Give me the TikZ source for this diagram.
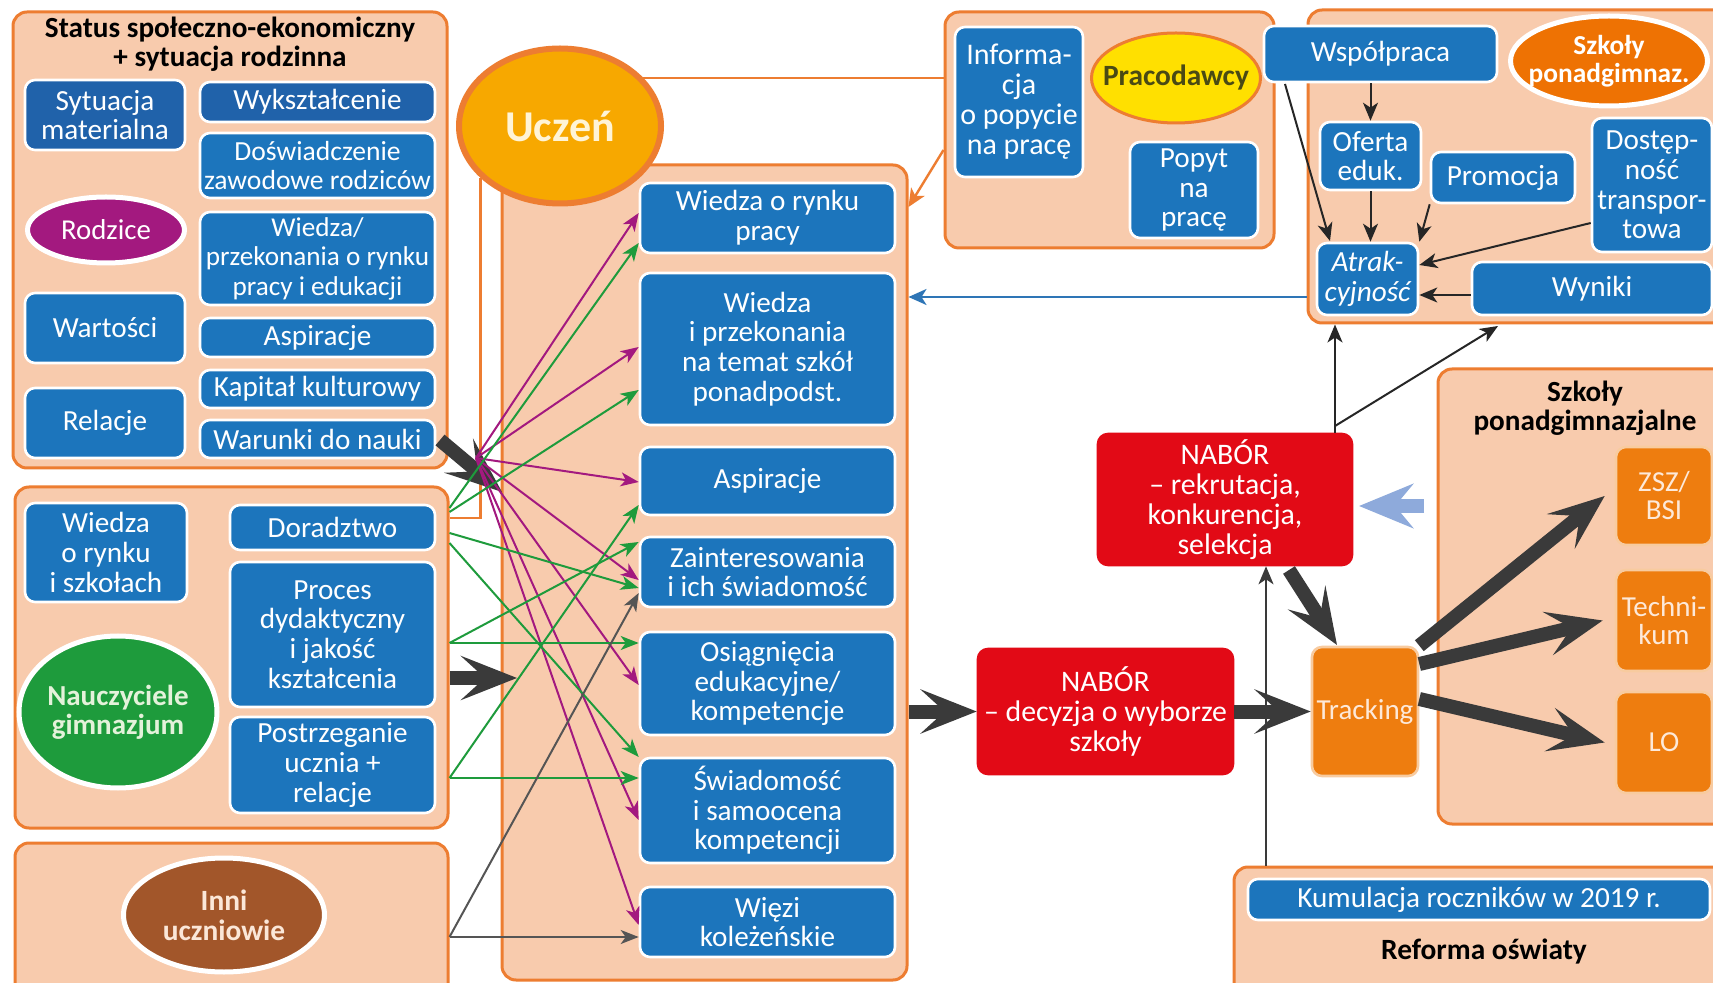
\documentclass[tikz,border=0pt]{standalone}
\usepackage{fontspec}
\setmainfont{Carlito}
\usetikzlibrary{shapes.geometric,arrows.meta}
\definecolor{peach}{HTML}{F8CBAD}
\definecolor{orbord}{HTML}{ED7D31}
\definecolor{bblue}{HTML}{1C75BC}
\definecolor{dblue}{HTML}{2062AA}
\definecolor{rodz}{HTML}{A3197F}
\definecolor{ngreen}{HTML}{1E9B3C}
\definecolor{inbrown}{HTML}{A2562A}
\definecolor{uczfill}{HTML}{F7A800}
\definecolor{yel}{HTML}{FFE000}
\definecolor{orfill}{HTML}{EE7D0F}
\definecolor{orfilltwo}{HTML}{EE7203}
\definecolor{nred}{HTML}{E20A16}
\definecolor{magl}{HTML}{A3197F}
\definecolor{grl}{HTML}{1E9B3C}
\definecolor{gyl}{HTML}{555555}
\definecolor{darkar}{HTML}{3A3A3A}
\definecolor{lblue}{HTML}{8EAADB}
\definecolor{arblue}{HTML}{2E75B6}
\definecolor{oltext}{HTML}{4A4A14}
\definecolor{cream}{HTML}{FFF4D6}
\definecolor{palegreen}{HTML}{E4F2DA}
\definecolor{palepeach}{HTML}{FBE7D8}
\definecolor{orlight}{HTML}{FDE9D9}
\newcommand\fz[2]{\fontsize{#1}{#2}\selectfont}
% box from pixel corners: \bx[options](name)(x1,y1)(x2,y2){text}
\def\bx[#1](#2)(#3,#4)(#5,#6)#7{%
  \pgfmathsetmacro\bxcx{(#3+#5)/2}\pgfmathsetmacro\bxcy{(#4+#6)/2}%
  \pgfmathsetmacro\bxw{(#5-#3)/2}\pgfmathsetmacro\bxh{(#6-#4)/2}%
  \node[#1,minimum width=\bxw pt,minimum height=\bxh pt] (#2) at (\bxcx,\bxcy) {#7};}
\begin{document}
\begin{tikzpicture}[x=0.5pt,y=-0.5pt,
  frame/.style={draw=orbord,fill=peach,line width=1.5pt,rounded corners=7pt,inner sep=0pt},
  bb/.style={draw=white,line width=1.3pt,fill=bblue,rounded corners=5pt,inner sep=0pt,text=white,align=center,font=\fz{14.6}{14.8}},
  db/.style={bb,fill=dblue},
  mb/.style={bb,font=\fz{14.6}{14.8}},
  rb/.style={bb,fill=nred,draw=nred,font=\fz{14.9}{15}},
  ob/.style={bb,fill=orfill,draw=white!60!orfill,text=orlight,font=\fz{14.5}{14}},
  ell/.style={ellipse,inner sep=0pt,draw=white,line width=2.5pt},
  lab/.style={align=center,inner sep=0pt},
  mg/.style={draw=magl,line width=1pt,-{Stealth[length=9pt,width=7pt,inset=2.5pt]}},
  gn/.style={mg,draw=grl},
  gy/.style={mg,draw=gyl},
  bk/.style={draw=black!85,line width=1pt,-{Stealth[length=9pt,width=7.5pt,inset=2.5pt]}},
  thk/.style={draw=darkar,line width=7pt,-{Stealth[length=28pt,width=22pt,inset=12pt]}},
  orl/.style={draw=orbord,line width=1.2pt},
  ttl/.style={font=\bfseries\fz{14.6}{14.5},align=center,inner sep=0pt},
]
\fill[white] (0,0) rectangle (1713,983);
\useasboundingbox (0,0) rectangle (1713,983);
\clip (0,0) rectangle (1713,983);

% frames
\bx[frame](box1)(13,12)(447,468){}
\bx[frame](box2)(15,487)(448,828){}
\bx[frame](box3)(15,843)(448,1010){}
\bx[frame](mainb)(502,165)(907,980){}
\bx[frame](prbox)(945,12)(1274,248){}
\bx[frame](szktop)(1308,10)(1740,323){}
\bx[frame](szkpon)(1438,369)(1740,824){}
\bx[frame](reform)(1234,867)(1740,1010){}

% box 1
\node[ttl] (t1) at (230,44) {Status społeczno-ekonomiczny\\+ sytuacja rodzinna};
\bx[db](sytmat)(25,80)(185,150){Sytuacja\\materialna}
\bx[db](wyksz)(200,82)(435,122){Wykształcenie}
\bx[bb,font=\fz{13.8}{14.8}](dosw)(200,133)(435,198){Doświadczenie\\zawodowe rodziców}
\node[ell,fill=rodz,minimum width=78.5pt,minimum height=33pt,
  label={[lab,text=white,font=\fz{14.4}{14}]center:Rodzice}] (rodzice) at (106,230) {};
\bx[bb,font=\fz{13.6}{14.8}](wiedzap)(200,212)(435,305){Wiedza/\\przekonania o rynku\\pracy i edukacji}
\bx[bb](wart)(25,293)(185,363){Wartości}
\bx[bb](aspa)(200,318)(435,357){Aspiracje}
\bx[bb](kap)(200,370)(435,408){Kapitał kulturowy}
\bx[bb](rel)(25,388)(185,458){Relacje}
\bx[bb](warn)(200,420)(435,458){Warunki do nauki}

% box 2
\bx[bb](wrs)(25,503)(187,602){Wiedza\\o rynku\\i szkołach}
\bx[bb](dor)(230,505)(435,550){Doradztwo}
\bx[bb](proc)(230,562)(435,707){Proces\\dydaktyczny\\i jakość\\kształcenia}
\bx[bb](post)(230,717)(435,813){Postrzeganie\\ucznia +\\relacje}
\node[ell,fill=ngreen,minimum width=99pt,minimum height=76pt,
  label={[lab,text=palegreen,font=\bfseries\fz{14.5}{14.5}]center:Nauczyciele\\gimnazjum}] (naucz) at (118,712) {};

% box 3
\node[ell,fill=inbrown,minimum width=100.5pt,minimum height=57pt,
  label={[lab,text=palepeach,font=\bfseries\fz{14.7}{15}]center:Inni\\uczniowie}] (inni) at (224,915) {};

% main box
\bx[mb](wrp)(640,183)(895,253){Wiedza o rynku\\pracy}
\bx[mb](wip)(640,273)(895,425){Wiedza\\i przekonania\\na temat szkół\\ponadpodst.}
\bx[mb](aspb)(640,447)(895,515){Aspiracje}
\bx[mb](zai)(640,537)(895,607){Zainteresowania\\i ich świadomość}
\bx[mb](osi)(640,632)(895,735){Osiągnięcia\\edukacyjne/\\kompetencje}
\bx[mb](swi)(640,758)(895,863){Świadomość\\i samoocena\\kompetencji}
\bx[mb](wie)(640,887)(895,957){Więzi\\koleżeńskie}

% Uczeń and its orange connections
\node[ellipse,inner sep=0pt,fill=uczfill,draw=orbord,line width=3pt,minimum width=101pt,minimum height=77.5pt,
  label={[lab,text=cream,font=\bfseries\fz{22}{24}]center:Uczeń}] (uczen) at (560,126) {};
\draw[orl] (uczen.30) -- (uczen.30 -| prbox.west);
\draw[orl] (uczen.213) |- (box2.east |- 0,518);

% Pracodawcy
\bx[bb,font=\fz{15}{15}](info)(955,27)(1083,177){Informa-\\cja\\o popycie\\na pracę}
\node[ellipse,inner sep=0pt,fill=yel,draw=orbord,line width=1.5pt,minimum width=84.5pt,minimum height=45pt,
  label={[lab,text=oltext,font=\bfseries\fz{14.7}{15}]center:Pracodawcy}] (pracod) at (1176,78) {};
\bx[bb](popyt)(1130,142)(1258,238){Popyt\\na\\pracę}

% Szkoły top
\bx[bb](wsp)(1264,26)(1497,82){Współpraca}
\node[ell,fill=orfilltwo,minimum width=98.5pt,minimum height=45pt,
  label={[lab,text=white,font=\bfseries\fz{13.7}{14}]center:Szkoły\\ponadgimnaz.}] (szkel) at (1609,61) {};
\bx[bb](ofe)(1320,122)(1421,190){Oferta\\eduk.}
\bx[bb](pro)(1431,152)(1575,203){Promocja}
\bx[bb](dos)(1592,118)(1712,252){Dostęp-\\ność\\transpor-\\towa}
\bx[bb,font=\itshape\fz{14.6}{14.8}](atr)(1317,243)(1418,315){Atrak-\\cyjność}
\bx[bb](wyn)(1472,262)(1712,315){Wyniki}

% NABÓR, Tracking
\bx[rb](rekr)(1098,434)(1352,565){NABÓR\\– rekrutacja,\\konkurencja,\\selekcja}
\bx[rb](decy)(978,649)(1233,774){NABÓR\\– decyzja o wyborze\\szkoły}
\bx[ob](track)(1312,647)(1418,776){Tracking}

% Szkoły ponadgimnazjalne
\node[ttl] (t2) at (1585,408) {Szkoły\\ponadgimnazjalne};
\bx[ob](zsz)(1616,447)(1712,545){ZSZ/\\BSI}
\bx[ob](tech)(1616,570)(1712,671){Techni-\\kum}
\bx[ob](lo)(1616,692)(1712,793){LO}

% Reforma
\bx[bb](kum)(1248,879)(1710,920){Kumulacja roczników w 2019 r.}
\node[ttl,font=\bfseries\fz{14.7}{15}] (t3) at (1484,951) {Reforma oświaty};

% thin arrows right part
\draw[orl,-{Stealth[length=9pt,width=8pt,inset=2.5pt]}] (prbox.west |- 0,150) -- (mainb.east |- 0,207);
\draw[draw=arblue,line width=1.2pt,-{Stealth[length=9pt,width=8pt,inset=2.5pt]}] (szktop.west |- 0,297) -- (mainb.east |- 0,297);
\draw[bk] (wsp.south -| ofe.north) -- (ofe.north);
\draw[bk] (ofe.south) -- (ofe.south |- atr.north);
\coordinate (w1) at (1285,84);
\coordinate (a1) at (1330,241);
\draw[bk] (w1) -- (a1);
\draw[bk] (pro.south west) -- (atr.north east);
\draw[bk] (dos.west |- 0,223) -- (atr.east |- 0,265);
\draw[bk] (wyn.west |- 0,295) -- (atr.east |- 0,295);
\coordinate (j) at (1335,426);
\coordinate (jt) at (1498,326);
\draw[bk] (rekr.north -| j) -- (szktop.south -| j);
\draw[bk] (j) -- (jt);
\draw[bk,draw=darkar] (reform.north -| 1266,0) -- (rekr.south -| 1266,0);

% light blue block arrow
\coordinate (lbs) at (1424,506);
\coordinate (lbt) at (1359,506);
\draw[draw=lblue,line width=7pt,-{Stealth[length=27pt,width=22pt,inset=9pt]}] (lbs) -- (lbt);

% thick arrows
\coordinate (s1) at (440,440);
\coordinate (s1t) at (502,492);
\draw[thk] (s1) -- (s1t);
\coordinate (s2t) at (517,678);
\draw[thk] (box2.east |- s2t) -- (s2t);
\draw[thk] (mainb.east |- decy.west) -- (decy.west);
\draw[thk] (decy.east) -- (track.west);
\coordinate (r1) at (1289,570);
\coordinate (r1t) at (1337,645);
\draw[thk] (r1) -- (r1t);
\draw[thk] (track.north east) -- ([xshift=-5pt]zsz.west);
\draw[thk] (track.east |- 0,664) -- ([xshift=-6pt]tech.west);
\draw[thk] (track.east |- 0,699) -- ([xshift=-5pt]lo.west);

% magenta arrows
\coordinate (m0) at (476,458);
\draw[mg] (m0) -- (wrp.west |- 0,213);
\draw[mg] (m0) -- (wip.west |- 0,347);
\draw[mg] (m0) -- (aspb.west |- 0,482);
\draw[mg] (m0) -- (zai.west |- 0,580);
\draw[mg] (m0) -- (osi.west |- 0,685);
\draw[mg] (m0) -- (swi.west |- 0,820);
\draw[mg] (m0) -- (wie.west |- 0,925);

% green arrows
\draw[gn] (box2.east |- 0,508) -- (wrp.west |- 0,243);
\draw[gn] (box2.east |- 0,512) -- (wip.west |- 0,390);
\draw[gn] (box2.east |- 0,533) -- (zai.west |- 0,588);
\draw[gn] (box2.east |- 0,543) -- (swi.west |- 0,757);
\draw[gn] (box2.east |- 0,643) -- (osi.west |- 0,643);
\draw[gn] (box2.east |- 0,643) -- (zai.west |- 0,542);
\draw[gn] (box2.east |- 0,778) -- (swi.west |- 0,778);
\draw[gn] (box2.east |- 0,778) -- (aspb.west |- 0,505);

% gray arrows
\draw[gy] (box3.east |- 0,937) -- (wie.west |- 0,937);
\draw[gy] (box3.east |- 0,937) -- (zai.west |- 0,593);
\end{tikzpicture}
\end{document}
